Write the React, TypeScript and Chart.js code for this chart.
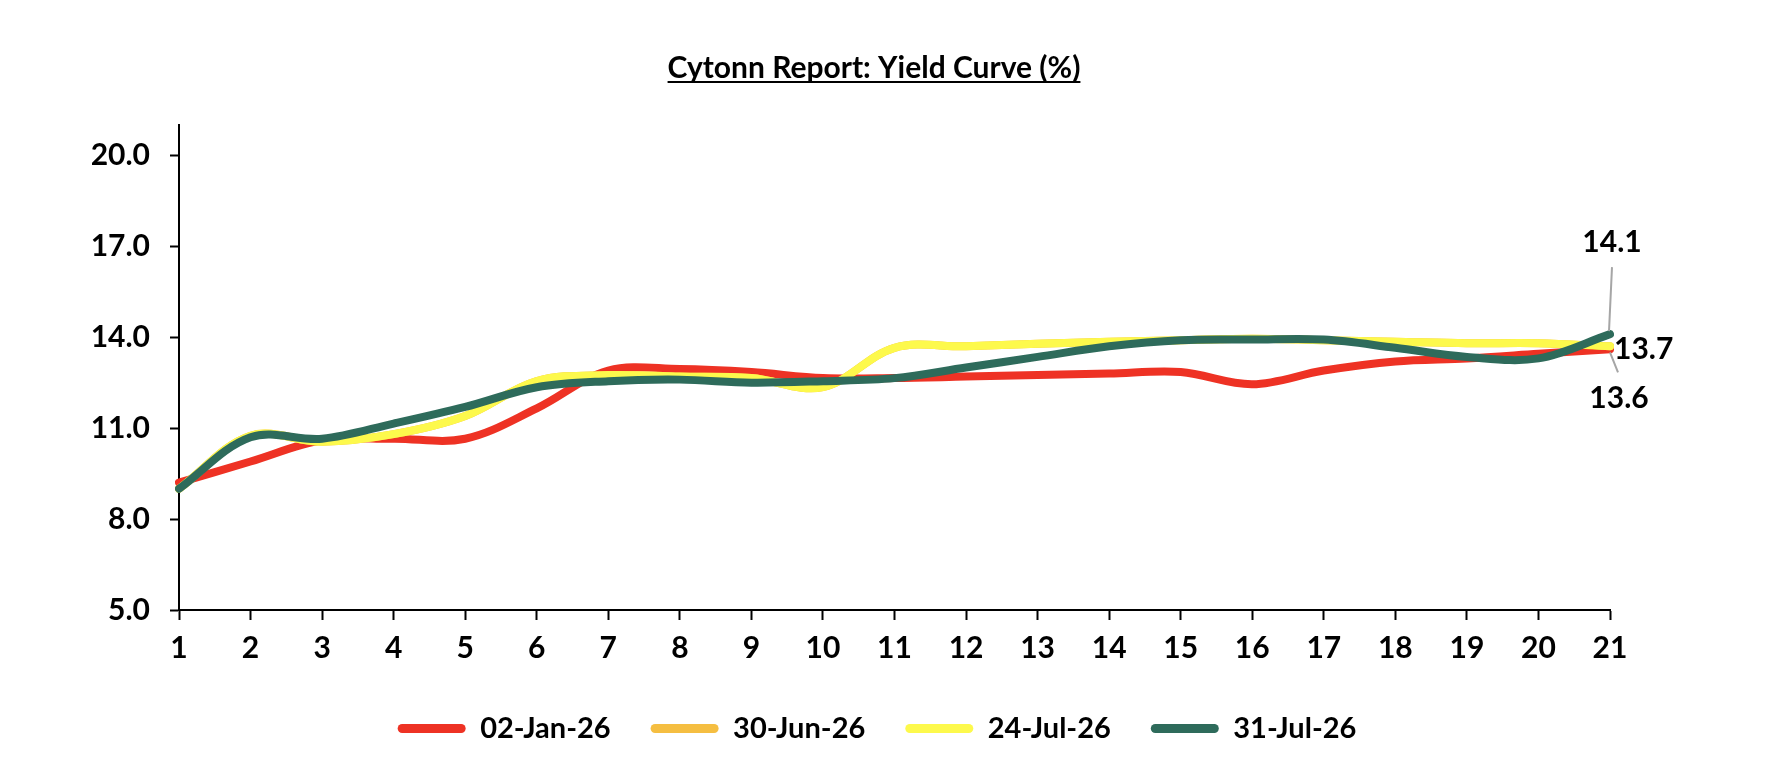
import { useEffect, useRef } from "react";
import { Chart, registerables } from "chart.js";

Chart.register(...registerables);

const FONT = "Lato, 'Liberation Sans', sans-serif";

// tenor (years) on the x axis
const tenors = ["1", "2", "3", "4", "5", "6", "7", "8", "9", "10", "11", "12", "13", "14", "15", "16", "17", "18", "19", "20", "21"];

const seriesNames = ["02-Jan-26", "30-Jun-26", "24-Jul-26", "31-Jul-26"];
const seriesColors = ["#EE3224", "#F5BE41", "#FDF94C", "#2E6B5B"];

const jan02 = [9.2, 9.9, 10.6, 10.65, 10.65, 11.65, 12.9, 12.95, 12.85, 12.65, 12.65, 12.7, 12.75, 12.8, 12.85, 12.45, 12.9, 13.2, 13.3, 13.45, 13.6];
const jun30 = [9.0, 10.75, 10.55, 10.8, 11.4, 12.55, 12.75, 12.7, 12.65, 12.35, 13.65, 13.7, 13.78, 13.85, 13.9, 13.95, 13.9, 13.85, 13.8, 13.8, 13.7];
const jul24 = [9.0, 10.75, 10.55, 10.8, 11.4, 12.55, 12.75, 12.7, 12.65, 12.35, 13.65, 13.7, 13.78, 13.85, 13.9, 13.95, 13.9, 13.85, 13.8, 13.8, 13.7];
const jul31 = [9.0, 10.7, 10.65, 11.15, 11.7, 12.35, 12.55, 12.6, 12.5, 12.55, 12.65, 13.0, 13.35, 13.7, 13.9, 13.92, 13.92, 13.65, 13.35, 13.3, 14.1];

const yTicks = [5, 8, 11, 14, 17, 20];

const TITLE = "Cytonn Report: Yield Curve (%)";

const titlePlugin = {
  id: "underlinedTitle",
  afterDraw(chart: any) {
    const { ctx } = chart;
    ctx.save();
    ctx.font = `bold 30px ${FONT}`;
    ctx.fillStyle = "#000";
    ctx.textAlign = "center";
    ctx.textBaseline = "alphabetic";
    const cx = 874;
    const base = 78;
    ctx.fillText(TITLE, cx, base);
    const w = ctx.measureText(TITLE).width;
    ctx.fillRect(cx - w / 2, base + 3, w, 2);
    ctx.restore();
  },
};

const endLabelPlugin = {
  id: "endLabels",
  afterDatasetsDraw(chart: any) {
    const { ctx } = chart;
    const last = tenors.length - 1;
    const pt = (i: number) => chart.getDatasetMeta(i).data[last];
    const red = pt(0);
    const yellow = pt(2);
    const green = pt(3);
    ctx.save();
    ctx.strokeStyle = "#A6A6A6";
    ctx.lineWidth = 2;
    ctx.beginPath();
    ctx.moveTo(green.x + 2, green.y - 67);
    ctx.lineTo(green.x - 1, green.y - 3);
    ctx.moveTo(red.x, red.y + 3);
    ctx.lineTo(red.x + 8, red.y + 23);
    ctx.stroke();

    ctx.font = `bold 30px ${FONT}`;
    ctx.fillStyle = "#000";
    ctx.textBaseline = "middle";
    ctx.textAlign = "center";
    ctx.fillText(jul31[last].toFixed(1), green.x + 2, green.y - 92);
    ctx.fillText(jan02[last].toFixed(1), red.x + 9, red.y + 49);
    ctx.textAlign = "left";
    ctx.fillText(jul24[last].toFixed(1), yellow.x + 4, yellow.y + 3);
    ctx.restore();
  },
};

const legendShift = {
  id: "legendShift",
  afterLayout(chart: any) {
    if (chart.legend) {
      chart.legend.left += 26;
      chart.legend.right += 26;
    }
  },
};

const App = () => {
  const chartRef = useRef<HTMLCanvasElement>(null);
  const chartInstance = useRef<Chart | null>(null);

  useEffect(() => {
    if (!chartRef.current) return;
    if (chartInstance.current) {
      chartInstance.current.destroy();
    }
    const ctx = chartRef.current.getContext("2d");
    if (!ctx) return;

    const values = [jan02, jun30, jul24, jul31];
    const drawOrder = [4, 3, 2, 1];

    chartInstance.current = new Chart(ctx, {
      type: "line",
      data: {
        labels: tenors,
        datasets: values.map((data, i) => ({
          label: seriesNames[i],
          data,
          borderColor: seriesColors[i],
          backgroundColor: seriesColors[i],
          borderWidth: 8,
          borderCapStyle: "round",
          borderJoinStyle: "round",
          pointRadius: 0,
          tension: 0.35,
          fill: false,
          order: drawOrder[i],
        })),
      },
      options: {
        responsive: false,
        animation: false,
        layout: {
          padding: { left: 92, right: 180, top: 125, bottom: 25 },
        },
        plugins: {
          title: { display: false },
          tooltip: { enabled: false },
          legend: {
            display: true,
            position: "bottom",
            labels: {
              boxWidth: 68,
              boxHeight: 9,
              padding: 40,
              color: "#000",
              font: { family: FONT, size: 29, weight: "bold" },
              generateLabels: (chart: any) =>
                chart.data.datasets.map((ds: any, i: number) => ({
                  text: ds.label,
                  fillStyle: ds.borderColor,
                  strokeStyle: ds.borderColor,
                  lineWidth: 0,
                  hidden: false,
                  datasetIndex: i,
                  fontColor: "#000",
                  borderRadius: 4.5,
                })),
            },
          },
        },
        scales: {
          x: {
            type: "category",
            offset: false,
            grid: {
              display: true,
              drawOnChartArea: false,
              drawTicks: true,
              tickLength: 10,
              tickColor: "#000",
              tickWidth: 2,
            },
            border: { display: true, color: "#000", width: 2 },
            ticks: {
              color: "#000",
              padding: 10,
              maxRotation: 0,
              autoSkip: false,
              font: { family: FONT, size: 30, weight: "bold" },
            },
            afterFit: (scale: any) => {
              scale.height = 64;
            },
          },
          y: {
            type: "linear",
            min: 5,
            max: 21,
            afterBuildTicks: (scale: any) => {
              scale.ticks = yTicks.map((v) => ({ value: v }));
            },
            afterFit: (scale: any) => {
              scale.width = 87;
            },
            grid: {
              display: true,
              drawOnChartArea: false,
              drawTicks: true,
              tickLength: 9,
              tickColor: "#000",
              tickWidth: 2,
            },
            border: { display: true, color: "#000", width: 2 },
            ticks: {
              color: "#000",
              padding: 20,
              font: { family: FONT, size: 30, weight: "bold" },
              callback: (v: any) => Number(v).toFixed(1),
            },
          },
        },
      },
      plugins: [titlePlugin, endLabelPlugin, legendShift],
    });

    return () => {
      if (chartInstance.current) {
        chartInstance.current.destroy();
        chartInstance.current = null;
      }
    };
  }, []);

  return (
    <div style={{ position: "fixed", left: 0, top: 0, width: 1790, height: 778, background: "#fff" }}>
      <canvas ref={chartRef} width={1790} height={778} style={{ display: "block" }} />
    </div>
  );
};

export default App;
